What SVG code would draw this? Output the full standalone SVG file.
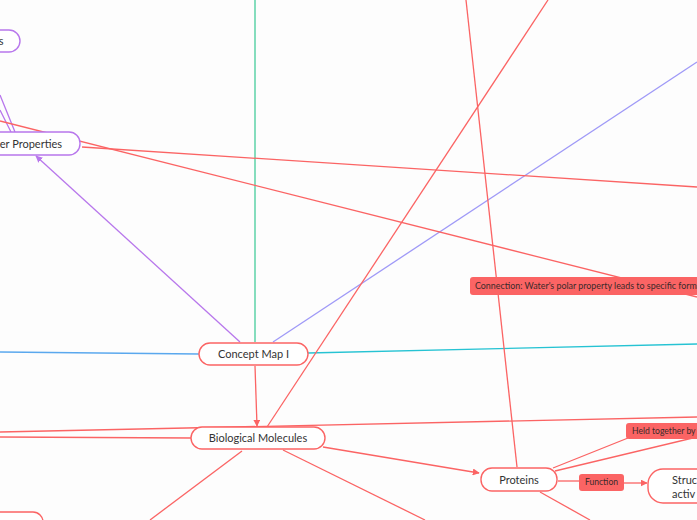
<svg xmlns="http://www.w3.org/2000/svg" width="697" height="520" viewBox="0 0 697 520">
<defs>
<style>
.red{stroke:#fb6464;stroke-width:1.3;fill:none}
.pur{stroke:#b877ec;stroke-width:1.3;fill:none}
.node{fill:#fff;stroke-width:1.4}
.rn{stroke:#fb6464}
.pn{stroke:#b877ec}
.t{font-family:Lato,"Noto Sans",sans-serif;fill:#333;font-size:11px}
.lab{fill:#fb6464}
.lt{font-family:Lato,"Noto Sans",sans-serif;fill:#3a2a2a;font-size:8.6px}
</style>
<marker id="ar" viewBox="0 0 10 10" refX="9" refY="5" markerWidth="7" markerHeight="7" orient="auto" markerUnits="userSpaceOnUse"><path d="M0,0 L10,5 L0,10 z" fill="#fb6464"/></marker>
<marker id="ap" viewBox="0 0 10 10" refX="9" refY="5" markerWidth="7" markerHeight="7" orient="auto" markerUnits="userSpaceOnUse"><path d="M0,0 L10,5 L0,10 z" fill="#b877ec"/></marker>
</defs>
<rect width="697" height="520" fill="#fdfdfd"/>
<g id="connectors">
<path d="M255,0 L255,342" stroke="#45cc9c" stroke-width="1.3" fill="none"/>
<path d="M240,342 L36,156" class="pur" marker-end="url(#ap)"/>
<path d="M0,95 L15,132 M0,110 L11,132" class="pur"/>
<path d="M273,342 L697,62" stroke="#9f99f7" stroke-width="1.3" fill="none"/>
<path d="M0,352 L199,354" stroke="#5aa8ee" stroke-width="1.3" fill="none"/>
<path d="M308,353 L697,344" stroke="#26c3d3" stroke-width="1.3" fill="none"/>
<path d="M255,366 L257,426" class="red" marker-end="url(#ar)"/>
<path d="M267,427 L548,0" class="red"/>
<path d="M517,467 L466,0" class="red"/>
<path d="M82,147 L697,187" class="red"/>
<path d="M0,121 L697,297" class="red"/>
<path d="M0,432 L697,417" class="red"/>
<path d="M0,437 L191,438" class="red"/>
<path d="M323,447 L479,473" class="red" marker-end="url(#ar)"/>
<path d="M242,451 L150,520" class="red"/>
<path d="M283,450 L425,520" class="red"/>
<path d="M553,468 L628,438" class="red"/>
<path d="M555,471 L697,437" class="red"/>
<path d="M558,481 L580,481" class="red"/>
<path d="M624,483 L647,483" class="red" marker-end="url(#ar)"/>
<path d="M540,492 L590,520" class="red"/>
</g>
<g id="label-connection">
<rect x="470" y="277" width="240" height="18" rx="3" class="lab"/>
<text x="475" y="289" class="lt" style="font-size:8.9px">Connection: Water's polar property leads to specific forma</text>
</g>
<g id="label-held">
<rect x="626" y="423" width="80" height="16" rx="3" class="lab"/>
<text x="632" y="434" class="lt">Held together by</text>
</g>
<g id="label-function">
<rect x="579" y="474" width="45" height="17" rx="3" class="lab"/>
<text x="601.5" y="485" class="lt" text-anchor="middle">Function</text>
</g>
<g id="node-s">
<rect x="-40" y="30" width="60" height="22" rx="11" class="node pn"/>
<text x="3.5" y="45" class="t" text-anchor="end">s</text>
</g>
<g id="node-water">
<rect x="-40" y="132" width="120" height="23" rx="11" class="node pn"/>
<text x="62" y="148" class="t" text-anchor="end">Water Properties</text>
</g>
<g id="node-concept">
<rect x="199" y="343" width="109" height="22" rx="11" class="node rn"/>
<text x="253.5" y="358" class="t" text-anchor="middle">Concept Map I</text>
</g>
<g id="node-bio">
<rect x="191" y="427" width="134" height="22" rx="11" class="node rn"/>
<text x="258" y="442" class="t" text-anchor="middle">Biological Molecules</text>
</g>
<g id="node-proteins">
<rect x="481" y="468" width="76" height="23" rx="11" class="node rn"/>
<text x="519" y="483.5" class="t" text-anchor="middle">Proteins</text>
</g>
<g id="node-struc">
<rect x="648" y="469" width="80" height="34" rx="15" class="node rn"/>
<text x="672" y="484" class="t">Struc</text>
<text x="672" y="498" class="t">activ</text>
</g>
<g id="node-bottom-left">
<rect x="-60" y="512" width="103" height="30" rx="10" class="node rn"/>
</g>
</svg>
